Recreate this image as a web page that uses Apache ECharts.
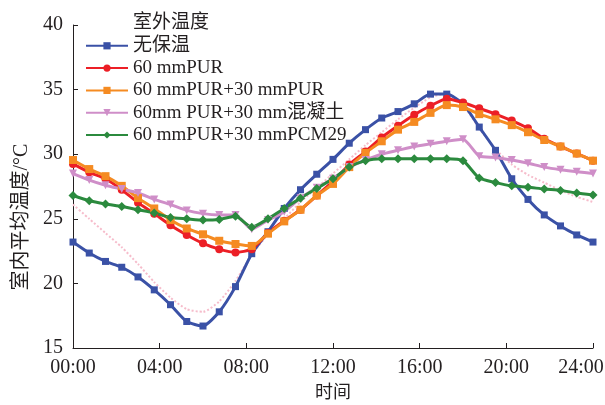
<!DOCTYPE html>
<html><head><meta charset="utf-8">
<script src="https://cdn.jsdelivr.net/npm/echarts@6/dist/echarts.min.js"></script>
<style>html,body{margin:0;padding:0;background:#fff}#c{width:605px;height:405px}</style>
</head><body><div id="c"></div>
<script>
const hours = [0,0.75,1.5,2.25,3,3.75,4.5,5.25,6,6.75,7.5,8.25,9,9.75,10.5,11.25,12,12.75,13.5,14.25,15,15.75,16.5,17.25,18,18.75,19.5,20.25,21,21.75,22.5,23.25,24];
const xTicks = ['00:00','04:00','08:00','12:00','16:00','20:00','24:00'];
const outdoor = [26.1,25.0,23.9,22.8,21.5,20.1,18.9,18.0,17.8,18.6,20.2,22.2,23.8,25.0,26.3,27.4,28.5,29.6,30.7,31.7,32.7,33.6,34.4,34.7,33.8,32.0,30.4,29.2,28.4,27.8,27.2,26.7,26.3];
const noInsul = [23.2,22.35,21.7,21.25,20.5,19.5,18.35,17.05,16.7,17.8,19.75,22.3,24.0,25.8,27.25,28.45,29.6,30.85,31.9,32.8,33.3,33.9,34.65,34.65,33.9,32.1,30.3,28.1,26.5,25.3,24.45,23.75,23.2];
const pur60 = [29.25,28.6,28.1,27.25,26.25,25.4,24.5,23.75,23.1,22.65,22.4,22.65,23.9,24.85,25.7,26.8,27.9,29.2,30.2,31.3,32.2,33.05,33.75,34.3,34.0,33.55,33.1,32.6,32.0,31.2,30.6,30.05,29.5];
const pur60pur30 = [29.55,28.85,28.3,27.55,26.6,25.8,24.9,24.25,23.8,23.3,23.05,22.9,23.85,24.8,25.7,26.8,27.7,29.0,30.1,31.0,31.9,32.5,33.2,33.8,33.65,33.1,32.7,32.25,31.7,31.1,30.6,30.05,29.5];
const pur60concrete = [28.5,28.0,27.6,27.3,27.0,26.5,26.1,25.65,25.4,25.3,25.3,24.2,24.9,25.55,26.6,27.4,28.1,29.0,29.55,30.0,30.3,30.6,30.8,31.0,31.15,29.85,29.75,29.55,29.3,29.0,28.8,28.65,28.5];
const pur60pcm = [26.8,26.4,26.15,25.95,25.7,25.45,25.1,25.0,24.9,24.95,25.2,24.35,25.0,25.8,26.6,27.35,28.1,29.0,29.5,29.65,29.65,29.65,29.65,29.65,29.5,28.15,27.8,27.55,27.45,27.3,27.2,27.0,26.85];
const names = ['室外温度','无保温','60 mmPUR','60 mmPUR+30 mmPUR','60mm PUR+30 mm混凝土','60 mmPUR+30 mmPCM29'];

const FONT = "'Liberation Serif','Noto Sans CJK SC',serif";
const pair = arr => arr.map((v,i)=>[hours[i],v]);
function mk(name, arr, color, symbol, rot, size){
  return {name, type:'line', data:pair(arr), smooth:0.2, symbol, symbolSize:size, symbolRotate:rot||0,
    lineStyle:{color, width:3}, itemStyle:{color}, z:3};
}
const chart = echarts.init(document.getElementById('c'));
chart.setOption({
  animation:false,
  textStyle:{fontFamily:FONT, color:'#231f20'},
  grid:{left:73, right:12, top:25, bottom:57, containLabel:false, outerBoundsMode:'none'},
  legend:{orient:'vertical', left:80, top:9, itemWidth:42, itemHeight:9, itemGap:3.3,
    textStyle:{fontFamily:FONT, fontSize:19, color:'#231f20', lineHeight:19},
    data:[{name:names[0], itemStyle:{opacity:0}, lineStyle:{opacity:0}}].concat(names.slice(1))},
  xAxis:{type:'value', min:0, max:24, interval:4,
    axisLine:{lineStyle:{color:'#231f20', width:1}},
    axisTick:{inside:true, length:5, lineStyle:{color:'#231f20'}},
    splitLine:{show:false},
    axisLabel:{fontFamily:FONT, fontSize:20, color:'#231f20', margin:10,
      formatter:v=>{const i=Math.round(v/4); return i===6 ? '{last|'+xTicks[i]+'}' : xTicks[i];},
      rich:{last:{fontFamily:FONT, fontSize:20, color:'#231f20', padding:[0,24,0,0]}}},
    name:'时间', nameLocation:'middle', nameGap:36,
    nameTextStyle:{fontFamily:FONT, fontSize:18, color:'#231f20'}},
  yAxis:{type:'value', min:15, max:40, interval:5,
    axisLine:{show:true, lineStyle:{color:'#231f20', width:1}},
    axisTick:{show:true, inside:true, length:5, lineStyle:{color:'#231f20'}},
    splitLine:{show:false},
    axisLabel:{fontFamily:FONT, fontSize:20, color:'#231f20', margin:10}},
  graphic:[{type:'text', x:22, y:217, rotation:Math.PI/2,
    style:{text:'室内平均温度/°C', font:"20px 'Liberation Serif','Noto Sans CJK SC',serif", fill:'#231f20', textAlign:'center', textVerticalAlign:'middle'}}],
  series:[
    {name:names[0], type:'line', data:pair(outdoor), smooth:0.2, symbol:'none',
      lineStyle:{color:'#f6bccb', width:2, type:'dotted'}, itemStyle:{color:'#f6bccb'}, z:2},
    mk(names[1], noInsul, '#3a51a6', 'rect', 0, 7),
    mk(names[2], pur60, '#ec1f26', 'circle', 0, 8),
    mk(names[3], pur60pur30, '#f58b22', 'rect', 0, 8),
    mk(names[4], pur60concrete, '#cf8ec8', 'triangle', 180, 8),
    mk(names[5], pur60pcm, '#2b8a3e', 'diamond', 0, 9)
  ]
});
</script></body></html>
